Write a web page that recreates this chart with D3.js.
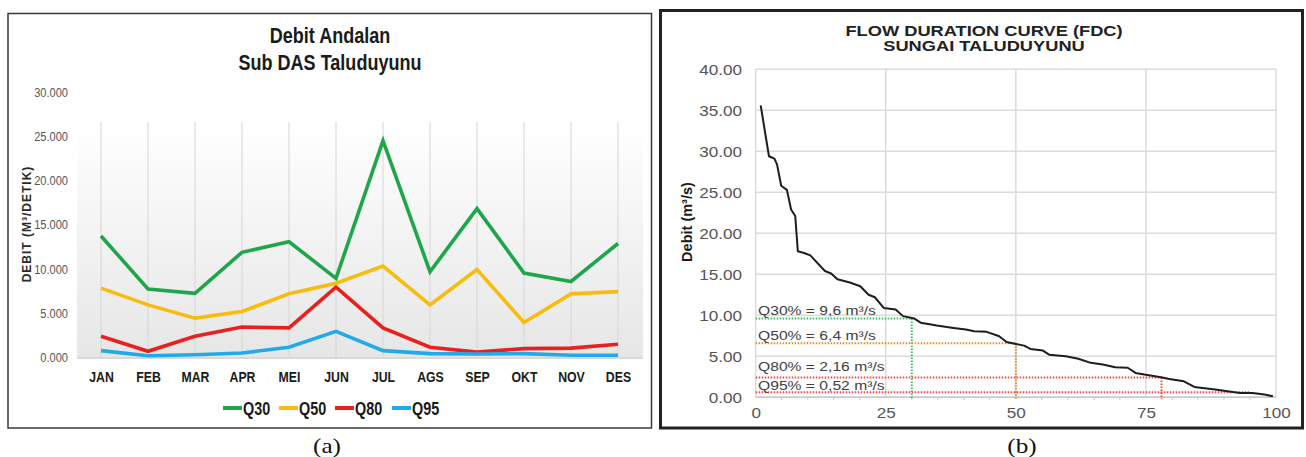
<!DOCTYPE html>
<html><head><meta charset="utf-8">
<script src="https://cdn.jsdelivr.net/npm/d3@7"></script>
<style>body{margin:0;background:#fff;} svg{display:block}</style>
</head><body>
<svg id="c" width="1306" height="457"></svg>
<script>
// ---------- Panel (a) data ----------
const months = ["JAN","FEB","MAR","APR","MEI","JUN","JUL","AGS","SEP","OKT","NOV","DES"];
const seriesNames = ["Q30","Q50","Q80","Q95"];
const seriesColors = ["#1fa64b","#f8bc0e","#e8211f","#22a9e8"];
const q30 = [13.7,7.7,7.2,11.85,13.05,8.9,24.5,9.65,16.8,9.5,8.55,12.85];
const q50 = [7.8,5.9,4.4,5.15,7.15,8.35,10.3,5.9,9.9,3.9,7.15,7.4];
const q80 = [2.35,0.65,2.35,3.4,3.3,7.9,3.3,1.1,0.55,0.95,1.0,1.45];
const q95 = [0.72,0.15,0.25,0.45,1.1,2.9,0.72,0.38,0.34,0.38,0.2,0.2];
const yTicksA = [0,5,10,15,20,25,30];

// ---------- Panel (b) data ----------
const exceedance = [0.96,2.55,3.6,4.1,4.9,6.0,6.8,7.6,8.1,9.3,10.5,13.3,14.5,15.7,18.1,20.1,21.7,22.9,24.6,26.9,28.3,30.5,31.7,34.8,38.0,40.4,42.0,44.4,46.8,48.2,50.0,51.6,52.8,55.2,56.4,59.6,62.0,64.4,66.7,69.1,71.5,73.0,74.7,77.9,79.5,82.3,84.3,85.9,88.3,90.7,93.1,95.5,97.8,99.4];
const debit = [35.6,29.4,29.1,28.4,25.8,25.3,22.9,22.1,17.8,17.6,17.3,15.4,15.1,14.4,14.0,13.55,12.5,12.2,10.9,10.7,9.9,9.6,9.1,8.75,8.46,8.26,8.06,7.98,7.45,6.75,6.5,6.3,5.9,5.7,5.2,5.0,4.7,4.2,4.0,3.66,3.6,2.97,2.77,2.44,2.24,1.95,1.26,1.14,0.94,0.73,0.53,0.53,0.33,0.12];
const refLabels = ["Q30% = 9,6 m³/s","Q50% = 6,4 m³/s","Q80% = 2,16 m³/s","Q95% = 0,52 m³/s"];
const refY = [9.6, 6.6, 2.42, 0.62];
const refX = [30, 50, 78, 95];
const refVertical = [true, true, true, false];
const refColors = ["#35c25c","#e8872c","#f24545","#f24545"];
const yTicksB = [0,5,10,15,20,25,30,35,40];
const xTicksB = [0,25,50,75,100];
const xMinorB = [5,10,15,20,30,35,40,45,55,60,65,70,80,85,90,95];

const svg = d3.select("#c");
const SANS = "'Liberation Sans', Arial, sans-serif";
const SERIF = "'Liberation Serif','Times New Roman',serif";

function label(g, x, y, s, o) {
  o = o || {};
  return g.append("text")
    .attr("transform", `translate(${x},${y}) scale(${o.sx||1},1)`)
    .attr("text-anchor", o.anchor || "middle")
    .attr("dominant-baseline", "central")
    .style("font-family", o.family || SANS)
    .style("font-size", (o.size||12) + "px")
    .style("font-weight", o.weight || "normal")
    .style("fill", o.fill || "#222")
    .style("letter-spacing", o.ls || null)
    .text(s);
}

// ================= Panel (a) =================
const A = svg.append("g");
A.append("rect").attr("x",8).attr("y",13.5).attr("width",643.5).attr("height",414.5)
  .attr("fill","#fff").attr("stroke","#3a3a3a").attr("stroke-width",1.5);

const defs = svg.append("defs");
const grad = defs.append("linearGradient").attr("id","bgA").attr("x1",0).attr("y1",0).attr("x2",0).attr("y2",1);
grad.append("stop").attr("offset","0%").attr("stop-color","#ffffff");
grad.append("stop").attr("offset","100%").attr("stop-color","#e6e6e6");

const xA = d3.scalePoint().domain(months).range([101, 618]);
const yA = d3.scaleLinear().domain([0, 30]).range([357, 92]);

A.append("rect").attr("x",77).attr("y",122).attr("width",566).attr("height",yA(0)-122+2)
  .attr("fill","url(#bgA)");

A.append("g").selectAll("line").data(months).join("line")
  .attr("x1", d => xA(d)).attr("x2", d => xA(d))
  .attr("y1", 122).attr("y2", yA(0))
  .attr("stroke", "#d6d6d6").attr("stroke-width", 1);
A.append("line").attr("x1",77).attr("x2",643).attr("y1",yA(0)+1).attr("y2",yA(0)+1)
  .attr("stroke","#d9d9d9").attr("stroke-width",2);

label(A, 330, 35, "Debit Andalan", {size:22, weight:"bold", sx:0.82, fill:"#1a1a1a"});
label(A, 330, 62, "Sub DAS Taluduyunu", {size:22, weight:"bold", sx:0.82, fill:"#1a1a1a"});

const yAxisA = A.append("g").attr("transform","translate(68,0)")
  .call(d3.axisLeft(yA).tickValues(yTicksA).tickFormat(d3.format(".3f")).tickSize(0));
yAxisA.select(".domain").remove();
yAxisA.selectAll("text").attr("x",0).attr("dy",null)
  .attr("dominant-baseline","central")
  .attr("transform","scale(0.82,1)")
  .style("font-family",SANS).style("font-size","13.5px").style("fill","#555");

A.append("text").attr("transform","translate(27,224) rotate(-90)")
  .attr("text-anchor","middle").attr("dominant-baseline","central")
  .style("font-family",SANS).style("font-size","12px").style("font-weight","bold")
  .style("letter-spacing","1px").style("fill","#2a2a2a")
  .text("DEBIT (M³/DETIK)");

const xAxisA = A.append("g").attr("transform","translate(0,377)")
  .call(d3.axisBottom(xA).tickSize(0));
xAxisA.select(".domain").remove();
xAxisA.selectAll("text").attr("y",0).attr("x",0).attr("dy",null)
  .attr("dominant-baseline","central")
  .attr("transform","scale(0.82,1)")
  .style("font-family",SANS).style("font-size","15px").style("font-weight","bold").style("fill","#1a1a1a");

const seriesData = [q30, q50, q80, q95];
const lineA = d3.line().x((d,i) => xA(months[i])).y(d => yA(d));
A.append("g").selectAll("path").data(seriesData).join("path")
  .attr("d", lineA)
  .attr("fill","none")
  .attr("stroke",(d,i) => seriesColors[i])
  .attr("stroke-width",3.6)
  .attr("stroke-linejoin","miter");

const legX = [223, 279, 335, 392];
seriesNames.forEach((n,i) => {
  A.append("line").attr("x1",legX[i]).attr("x2",legX[i]+19).attr("y1",408).attr("y2",408)
    .attr("stroke",seriesColors[i]).attr("stroke-width",4);
  label(A, legX[i]+20, 408, n, {size:18, weight:"bold", sx:0.8, anchor:"start", fill:"#1a1a1a"});
});

label(svg, 327, 446, "(a)", {family:SERIF, size:21, sx:1.2, fill:"#111"});

// ================= Panel (b) =================
const B = svg.append("g");
B.append("rect").attr("x",660.5).attr("y",10.5).attr("width",642).attr("height",417.5)
  .attr("fill","#fff").attr("stroke","#222").attr("stroke-width",3);

const xB = d3.scaleLinear().domain([0,100]).range([755.7, 1276]);
const yB = d3.scaleLinear().domain([0,40]).range([397.3, 69.3]);

B.append("g").selectAll("line").data(yTicksB).join("line")
  .attr("x1", xB(0)).attr("x2", xB(100)).attr("y1", d => yB(d)).attr("y2", d => yB(d))
  .attr("stroke", "#dcdcdc").attr("stroke-width", 1.5);
B.append("g").selectAll("line").data(xTicksB).join("line")
  .attr("x1", d => xB(d)).attr("x2", d => xB(d)).attr("y1", yB(40)).attr("y2", yB(0))
  .attr("stroke", "#dcdcdc").attr("stroke-width", 1.5);
B.append("line").attr("x1",xB(0)).attr("x2",xB(100)).attr("y1",yB(0)).attr("y2",yB(0))
  .attr("stroke","#c8c8c8").attr("stroke-width",1.5);
B.append("g").selectAll("line").data(xMinorB).join("line")
  .attr("x1", d => xB(d)).attr("x2", d => xB(d)).attr("y1", yB(0)).attr("y2", yB(0)+3)
  .attr("stroke", "#c8c8c8").attr("stroke-width", 1);

label(B, 984, 31, "FLOW DURATION CURVE (FDC)", {size:14.5, weight:"bold", sx:1.26, fill:"#222"});
label(B, 984, 46, "SUNGAI TALUDUYUNU", {size:14.5, weight:"bold", sx:1.26, fill:"#222"});

const yAxisB = B.append("g").attr("transform","translate(742,0)")
  .call(d3.axisLeft(yB).tickValues(yTicksB).tickFormat(d3.format(".2f")).tickSize(0));
yAxisB.select(".domain").remove();
yAxisB.selectAll("text").attr("x",0).attr("dy",null)
  .attr("dominant-baseline","central")
  .attr("transform","scale(1.18,1)")
  .style("font-family",SANS).style("font-size","14.5px").style("fill","#555");

const xAxisB = B.append("g").attr("transform","translate(0,413)")
  .call(d3.axisBottom(xB).tickValues(xTicksB).tickFormat(d3.format("d")).tickSize(0));
xAxisB.select(".domain").remove();
xAxisB.selectAll("text").attr("y",0).attr("x",0).attr("dy",null)
  .attr("dominant-baseline","central")
  .attr("transform","scale(1.18,1)")
  .style("font-family",SANS).style("font-size","14.5px").style("fill","#555");

B.append("text").attr("transform","translate(687,222) rotate(-90)")
  .attr("text-anchor","middle").attr("dominant-baseline","central")
  .style("font-family",SANS).style("font-size","14.5px").style("font-weight","bold").style("fill","#1a1a1a")
  .text("Debit (m³/s)");

refY.forEach((v,i) => {
  B.append("line").attr("x1",xB(0)).attr("x2",xB(refX[i])).attr("y1",yB(v)).attr("y2",yB(v))
    .attr("stroke",refColors[i]).attr("stroke-width",2).attr("stroke-dasharray","1.5,1.5");
  if (refVertical[i]) {
    B.append("line").attr("x1",xB(refX[i])).attr("x2",xB(refX[i])).attr("y1",yB(v)).attr("y2",yB(0)+2)
      .attr("stroke",refColors[i]).attr("stroke-width",2).attr("stroke-dasharray","1.5,1.5");
  }
});

const lineB = d3.line().x((d,i) => xB(exceedance[i])).y(d => yB(d));
B.append("path").datum(debit).attr("d", lineB)
  .attr("fill","none").attr("stroke","#1e1e1e").attr("stroke-width",2).attr("stroke-linejoin","round");

const refLabelY = [310, 335, 366, 385];
refLabels.forEach((s,i) => {
  label(B, 758, refLabelY[i], s, {size:13.5, sx:1.16, anchor:"start", fill:"#404040"});
});

label(svg, 1022, 446, "(b)", {family:SERIF, size:21, sx:1.2, fill:"#111"});
</script>
</body></html>
